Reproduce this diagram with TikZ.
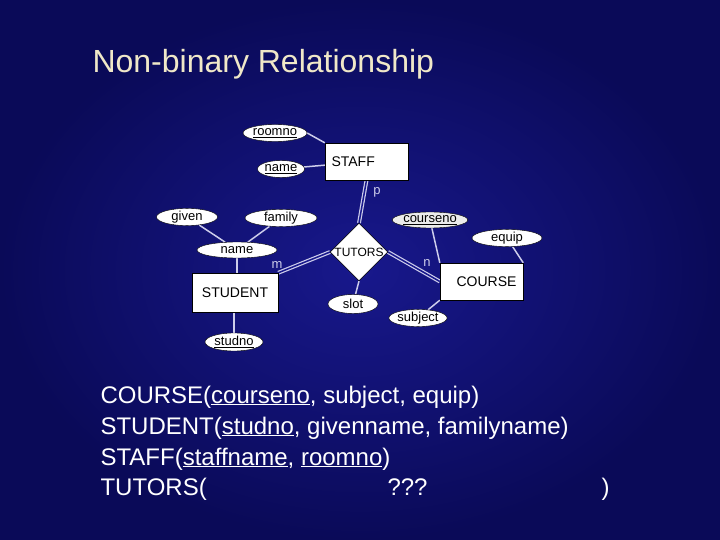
\documentclass[tikz,border=0pt]{standalone}
\usepackage{fontspec}
\setmainfont{Liberation Sans}
\usetikzlibrary{shapes.geometric}
\definecolor{bgin}{RGB}{24,24,140}
\definecolor{bgout}{RGB}{10,10,88}
\definecolor{ttl}{RGB}{240,232,200}
\definecolor{ln}{RGB}{205,205,235}
\pgfdeclarelayer{bg}
\pgfsetlayers{bg,main}
\begin{document}
\begin{tikzpicture}[x=1pt,y=-1pt,
  attr/.style={ellipse,draw=black,fill=white,inner sep=0pt,font=\fontsize{13}{13}\selectfont},
  ent/.style={rectangle,draw=black,fill=white,font=\fontsize{14}{14}\selectfont},
  conn/.style={draw=ln,line width=1.5pt},
  dbl/.style={draw=ln,double=bgin,double distance=1.5pt,line width=1.2pt},
  lbl/.style={text=ln,font=\fontsize{13}{13}\selectfont},
  txt/.style={text=white,anchor=base west,font=\fontsize{24}{24}\selectfont}]
\begin{pgfonlayer}{bg}
\shade[inner color=bgin,outer color=bgout] (0,0) rectangle (720,540);
\end{pgfonlayer}
\useasboundingbox (0,0) rectangle (720,540);
\node[anchor=base west,text=ttl,font=\fontsize{32}{32}\selectfont] (title) at (89,73) {Non-binary Relationship};
% entities
\node[ent,minimum width=83pt,minimum height=37pt,text width=70pt] (staff) at (366.5,161.5) {STAFF};
\node[ent,minimum width=86pt,minimum height=39pt] (student) at (235,292.5) {STUDENT};
\node[ent,minimum width=83pt,minimum height=37pt,align=right,text width=70pt] (course) at (481.5,281.5) {COURSE};
\node[diamond,draw=black,fill=white,minimum width=48pt,minimum height=48pt,inner sep=0pt,font=\fontsize{12}{12}\selectfont] (tutors) at (359,252) {TUTORS};
% attributes
\node[attr,minimum width=64pt,minimum height=17pt] (roomno) at (275,133) {\underline{roomno}};
\node[attr,minimum width=47pt,minimum height=17pt] (sname) at (281,169) {\underline{name}};
\node[attr,minimum width=61pt,minimum height=16pt] (given) at (187,217) {given};
\node[attr,minimum width=72pt,minimum height=15pt] (family) at (281,218) {family};
\node[attr,minimum width=80pt,minimum height=16pt] (name) at (237,250) {name};
\node[attr,minimum width=58pt,minimum height=18pt] (studno) at (234,342) {\underline{studno}};
\node[attr,minimum width=50pt,minimum height=19pt] (slot) at (353,304) {slot};
\node[attr,minimum width=74pt,minimum height=16pt,fill=black!8] (courseno) at (430,220) {\underline{courseno}};
\node[attr,minimum width=70pt,minimum height=16pt] (equip) at (507,238) {equip};
\node[attr,minimum width=57pt,minimum height=16pt] (subject) at (418,318) {subject};
% connectors
\begin{pgfonlayer}{bg}
\draw[conn] (roomno.east) -- (staff.north west);
\draw[conn] (sname) -- (staff);
\draw[conn] (given) -- (name);
\draw[conn] (family) -- (name);
\draw[conn] (name.south) -- (name.south |- student.north);
\draw[conn] (studno.north) -- (studno.north |- student.south);
\draw[conn] (tutors.south) -- (slot);
\draw[conn] (courseno) -- (course.north west);
\draw[conn] (equip) -- (course.north east);
\draw[conn] (subject) -- (course.south west);
\draw[dbl] (staff.south) -- (tutors.north);
\draw[dbl] (student.north east) -- (tutors.west);
\draw[dbl] (tutors.east) -- (course.west);
\end{pgfonlayer}
\node[lbl] (p) at (377,192) {p};
\node[lbl] (m) at (277,265) {m};
\node[lbl] (n) at (427,263) {n};
% text
\node[txt] (l1) at (97,403) {COURSE(\underline{courseno}, subject, equip)};
\node[txt] (l2) at (97,434) {STUDENT(\underline{studno}, givenname, familyname)};
\node[txt] (l3) at (97,465) {STAFF(\underline{staffname}, \underline{roomno})};
\node[txt] (l4) at (97,495) {TUTORS(};
\node[txt] (l5) at (384,495) {???};
\node[txt] (l6) at (598,495) {)};
\end{tikzpicture}
\end{document}
